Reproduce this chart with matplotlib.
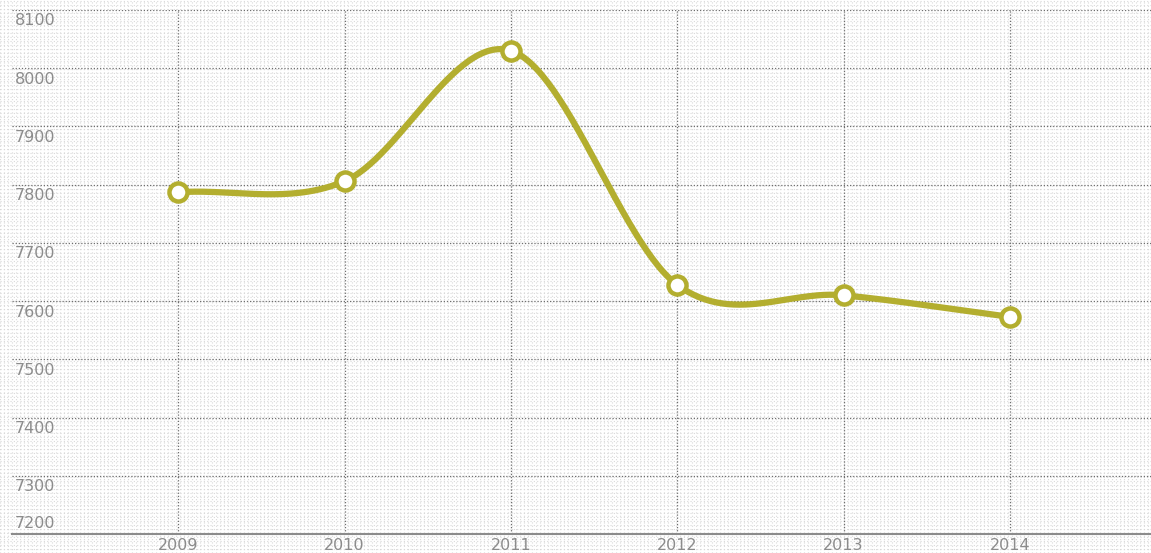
import numpy as np
import matplotlib.pyplot as plt
from matplotlib.transforms import blended_transform_factory

# data
years = [2009, 2010, 2011, 2012, 2013, 2014]
values = [7787, 7806, 8030, 7628, 7610, 7573]
y_ticks = [7200, 7300, 7400, 7500, 7600, 7700, 7800, 7900, 8000, 8100]

line_color = '#b3ae2f'
grid_color = '#6e6e6e'
label_color = '#8c8c8c'


def catmull_rom(xs, ys, n=60):
    # smooth curve through points, same style as the web chart
    xs = np.asarray(xs, float)
    ys = np.asarray(ys, float)
    px = np.concatenate([[2 * xs[0] - xs[1]], xs, [2 * xs[-1] - xs[-2]]])
    py = np.concatenate([[2 * ys[0] - ys[1]], ys, [2 * ys[-1] - ys[-2]]])
    out_x, out_y = [], []
    t = np.linspace(0, 1, n)
    for i in range(1, len(px) - 2):
        p0, p1, p2, p3 = py[i - 1], py[i], py[i + 1], py[i + 2]
        q0, q1, q2, q3 = px[i - 1], px[i], px[i + 1], px[i + 2]
        fy = 0.5 * ((2 * p1) + (-p0 + p2) * t + (2 * p0 - 5 * p1 + 4 * p2 - p3) * t**2 + (-p0 + 3 * p1 - 3 * p2 + p3) * t**3)
        fx = 0.5 * ((2 * q1) + (-q0 + q2) * t + (2 * q0 - 5 * q1 + 4 * q2 - q3) * t**2 + (-q0 + 3 * q1 - 3 * q2 + q3) * t**3)
        out_x.append(fx)
        out_y.append(fy)
    return np.concatenate(out_x), np.concatenate(out_y)


W, H = 1151, 553
fig = plt.figure(figsize=(W / 100, H / 100), dpi=100)

# dotted background pattern
bg = fig.add_axes([0, 0, 1, 1], zorder=0)
bg.set_xlim(0, W)
bg.set_ylim(0, H)
bg.set_xticks(np.arange(0, W, 4))
bg.set_yticks(np.arange(0, H, 4))
bg.grid(True, color='#d9d9d9', linestyle=(0, (1, 2)), linewidth=0.8)
bg.tick_params(length=0, labelbottom=False, labelleft=False)
for s in bg.spines.values():
    s.set_visible(False)

left, right, top, bottom = 12, W, 10, 534
ax = fig.add_axes([left / W, (H - bottom) / H, (right - left) / W, (bottom - top) / H], zorder=1)
ax.patch.set_alpha(0)
ax.set_xlim(2008, 2008 + (right - left) / 166.3)
ax.set_ylim(7200, 8100)
ax.set_xticks(years)
ax.set_yticks(y_ticks)
ax.grid(True, color=grid_color, linestyle=(0, (1, 1.5)), linewidth=0.9)
ax.tick_params(length=0, labelleft=False, labelbottom=False)
for name in ['top', 'right', 'left']:
    ax.spines[name].set_visible(False)
ax.spines['bottom'].set_color('#8c8c8c')
ax.spines['bottom'].set_linewidth(1.5)

# y labels sit inside the plot, just under each gridline (lowest one above the axis)
tr = blended_transform_factory(ax.transAxes, ax.transData)
for v in y_ticks:
    if v == y_ticks[0]:
        ax.annotate(str(v), xy=(0, v), xycoords=tr, xytext=(2, 2.5), textcoords='offset points',
                    ha='left', va='bottom', fontsize=11.5, color=label_color)
    else:
        ax.annotate(str(v), xy=(0, v), xycoords=tr, xytext=(2, -2.5), textcoords='offset points',
                    ha='left', va='top', fontsize=11.5, color=label_color)

trx = blended_transform_factory(ax.transData, ax.transAxes)
for yr in years:
    ax.annotate(str(yr), xy=(yr, 0), xycoords=trx, xytext=(0, -3), textcoords='offset points',
                ha='center', va='top', fontsize=11.5, color=label_color, annotation_clip=False)

cx, cy = catmull_rom(years, values)
ax.plot(cx, cy, color=line_color, linewidth=4.5, solid_capstyle='round', zorder=3)
ax.plot(years, values, 'o', markersize=13, markerfacecolor='white', markeredgecolor=line_color,
        markeredgewidth=3.2, zorder=4)

fig.savefig('out.png', dpi=100)
